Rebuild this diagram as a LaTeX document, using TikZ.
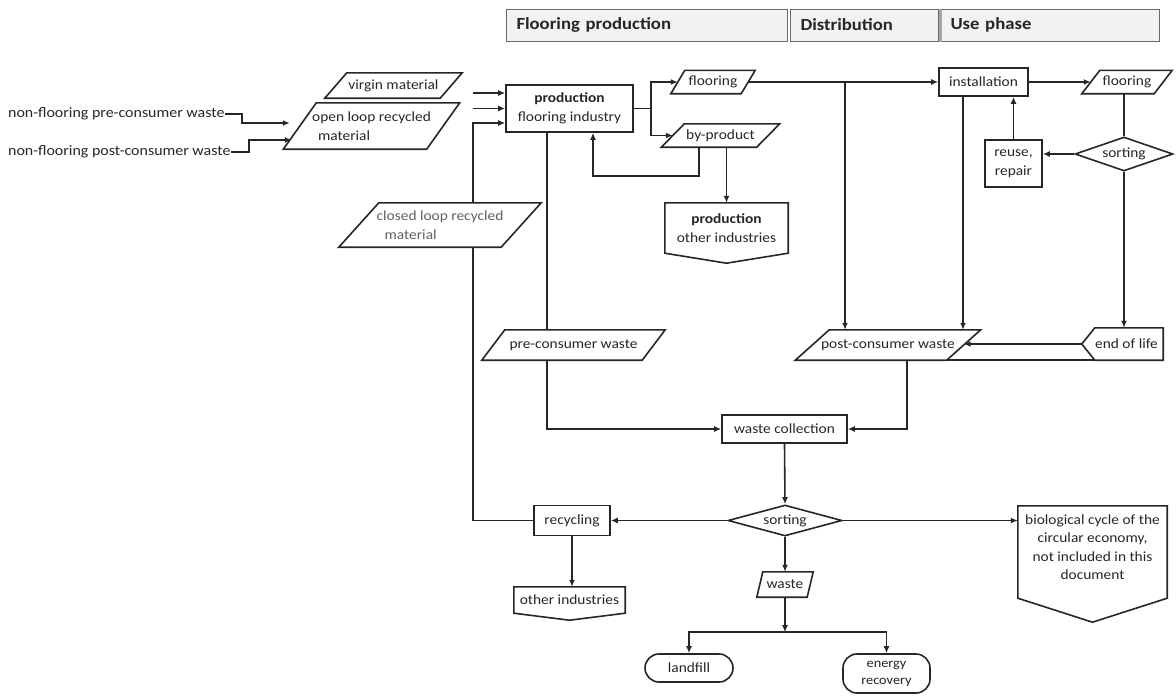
\documentclass[tikz,border=0pt]{standalone}
\usepackage{fontspec}
\setmainfont[FakeStretch=1.1]{Carlito}
\usetikzlibrary{arrows.meta,shapes.geometric}
\definecolor{lc}{HTML}{262626}
\definecolor{tc}{HTML}{262626}
\definecolor{hfill}{HTML}{F2F2F2}
\definecolor{hline}{HTML}{6A6A6A}
\newcommand\paraOutline[2]{\draw[shp] ([xshift=#2]#1.north west) -- ([xshift=#2]#1.north east) -- ([xshift=-#2]#1.south east) -- ([xshift=-#2]#1.south west) -- cycle;}
\newcommand\offpgOutline[3]{\draw[shp] (#1.north west) -- (#1.north east) -- ([yshift=-#2]#1.south east) -- ([yshift=-#3]#1.south) -- ([yshift=-#2]#1.south west) -- cycle;}
\newcommand\eolOutline[2]{\draw[shp] (#1.north east) -- ([xshift=#2]#1.north west) -- (#1.west) -- ([xshift=#2]#1.south west) -- (#1.south east) -- cycle;}
\begin{document}
\begin{tikzpicture}[x=1pt,y=-1pt, font=\fontsize{14}{18.5}\selectfont, text=tc,
 lbl/.style={inner sep=0pt, align=center},
 box/.style={draw=lc, line width=1.6pt, inner sep=0pt, align=center},
 ghost/.style={inner sep=0pt, align=center},
 shp/.style={draw=lc, line width=1.6pt},
 ln/.style={draw=lc, line width=1.6pt},
 arr/.style={ln, -{Latex[length=7pt,width=6pt]}},
 hdr/.style={draw=hline, fill=hfill, line width=1pt, minimum height=32pt, inner xsep=10pt, inner ysep=0pt, anchor=west, align=left, font=\fontsize{17}{20}\selectfont\bfseries},
 dia/.style={diamond, draw=lc, line width=1.6pt, inner sep=0pt, shape aspect=3},
]
\path[use as bounding box] (0,0) rectangle (1176,697);

% headers
\node[hdr, minimum width=281pt, text width=261pt] (hFP) at (506,25) {Flooring production};
\node[hdr, minimum width=148pt, text width=128pt] (hDi) at (790,25) {Distribution};
\node[hdr, minimum width=219pt, text width=199pt] (hUP) at (940,25) {Use phase};
\draw[line width=3pt, gray!70] (hUP.north west) -- (hUP.south west);

% left inputs
\node[lbl, anchor=west, font=\fontsize{14.5}{18}\selectfont] (tPre) at (8,114) {non-flooring pre-consumer waste};
\node[lbl, anchor=west, font=\fontsize{14.5}{18}\selectfont] (tPost) at (8,152) {non-flooring post-consumer waste};

\node[ghost, minimum width=115pt, minimum height=25pt] (vm) at (393.5,85.5) {virgin material};
\paraOutline{vm}{11pt}
\node[ghost, minimum width=143pt, minimum height=46pt, align=left] (ol) at (371.5,126) {open loop recycled\\\hspace{6pt}material};
\paraOutline{ol}{16.5pt}

\draw[arr] (tPre.east) -- ++(17,0) |- ([xshift=-10pt,yshift=3pt]ol.west);
\draw[arr] (tPost.east) -- ++(18,0) |- ([xshift=-8pt,yshift=-14pt]ol.west);

% production
\node[box, minimum width=127pt, minimum height=47pt] (prod) at (569.5,108.5) {\textbf{production}\\flooring industry};

\node[ghost, minimum width=162pt, minimum height=44pt, align=left, text=gray!75!black] (cl) at (440,225) {closed loop recycled\\\hspace{8pt}material};
\paraOutline{cl}{20pt}

\coordinate (p1) at ([yshift=15.5pt]prod.west);
\coordinate (p3) at ([yshift=-14.5pt]prod.west);
\coordinate (clT) at ([xshift=33pt]cl.north);
\coordinate (clB) at ([xshift=33pt]cl.south);
\draw[arr] (clT |- p1) -- (p1);
\draw[arr] (clT |- prod.west) -- (prod.west);
\draw[arr] (clT) |- (p3);

\node[ghost, minimum width=70pt, minimum height=23pt] (fl1) at (713,82) {flooring};
\paraOutline{fl1}{7pt}
\node[ghost, minimum width=95pt, minimum height=23pt] (bp) at (720.5,135.5) {by-product};
\paraOutline{bp}{11.5pt}
\draw[arr] (prod.east) -- ++(17,0) |- (fl1.west);
\draw[arr] (prod.east) -- ++(17,0) |- (bp.west);
\draw[arr] ([xshift=-21.5pt]bp.south) -- ++(0,28.5) -| ([xshift=23.5pt]prod.south);

\node[ghost, minimum width=123pt, minimum height=50pt] (po) at (726.5,228) {\textbf{production}\\other industries};
\offpgOutline{po}{0pt}{10pt}
\draw[arr] (bp.south -| po.north) -- (po.north);

% use phase
\node[box, minimum width=89pt, minimum height=28pt] (inst) at (983.5,82) {installation};
\draw[arr] (fl1.east) -- (inst.west);

\node[ghost, minimum width=151pt, minimum height=30pt] (pcw) at (888,345) {post-consumer waste};
\paraOutline{pcw}{17pt}
\coordinate (pA) at ([xshift=-43pt]pcw.north);
\draw[arr] (pA |- inst.west) -- (pA);
\draw[arr] ([xshift=-20.5pt]inst.south) -- ([xshift=75pt]pcw.north);

\node[ghost, minimum width=72pt, minimum height=23pt] (fl2) at (1127,82) {flooring};
\paraOutline{fl2}{9pt}
\draw[arr] (inst.east) -- (fl2.west);

\node[dia, minimum width=98pt, minimum height=34pt] (s1) at (1124,154) {sorting};
\draw[ln] (fl2.south -| s1.north) -- (s1.north);

\node[box, minimum width=57pt, minimum height=47pt] (reu) at (1013.5,163.5) {reuse,\\repair};
\draw[arr] (s1.west) -- (s1.west -| reu.east);
\draw[arr] (reu.north) -- (reu.north |- inst.south);

\node[ghost, minimum width=81pt, minimum height=32pt] (eol) at (1122.5,344) {\hspace{8pt}end of life};
\eolOutline{eol}{13pt}
\draw[arr] (s1.south) -- (s1.south |- eol.north);
\draw[arr] (eol.west) -- (eol.west -| pcw.east);
\draw[ln] ([xshift=-17pt]pcw.south east) -- ([xshift=13pt]eol.south west);

% waste collection
\node[box, minimum width=125pt, minimum height=28pt] (wc) at (784.5,429) {waste collection};
\draw[arr] ([xshift=19pt]pcw.south) |- (wc.east);

\node[ghost, minimum width=160pt, minimum height=30pt] (pre) at (573.5,345) {pre-consumer waste};
\paraOutline{pre}{11.5pt}
\coordinate (xA) at ([xshift=-22.5pt]prod.south);
\draw[ln] (xA) -- (xA |- pre.north);
\draw[arr] (xA |- pre.south) |- (wc.west);

% end sorting
\node[dia, minimum width=114pt, minimum height=31pt] (s2) at (785,520.5) {sorting};
\draw[arr] (wc.south) -- (s2.north);

\node[box, minimum width=76pt, minimum height=30pt] (rec) at (572,520.5) {recycling};
\draw[arr] (s2.west) -- (rec.east);
\draw[ln] (rec.west) -| (clB);

\node[ghost, minimum width=111pt, minimum height=26pt] (oi) at (569.5,600) {other industries};
\offpgOutline{oi}{0pt}{7pt}
\draw[arr] (rec.south) -- (rec.south |- oi.north);

\node[ghost, minimum width=50pt, minimum height=25pt] (ws) at (785,584.5) {waste};
\paraOutline{ws}{3pt}
\draw[arr] (s2.south) -- (ws.north);

\node[box, rounded corners=14pt, minimum width=88pt, minimum height=28pt] (lf) at (689,668) {landfill};
\node[box, rounded corners=14pt, minimum width=87pt, minimum height=39pt, font=\fontsize{13}{17}\selectfont] (er) at (886.5,673.5) {energy\\recovery};
\coordinate (split) at ([yshift=-35pt]ws.south);
\draw[arr] (ws.south) -- (split);
\draw[arr] (split) -| (lf.north);
\draw[arr] (split) -| (er.north);

\node[ghost, minimum width=149pt, minimum height=82pt] (bio) at (1092.5,547) {biological cycle of the\\circular economy,\\not included in this\\document};
\offpgOutline{bio}{10pt}{34pt}
\draw[arr] (s2.east) -- (s2.east -| bio.west);
\end{tikzpicture}
\end{document}
